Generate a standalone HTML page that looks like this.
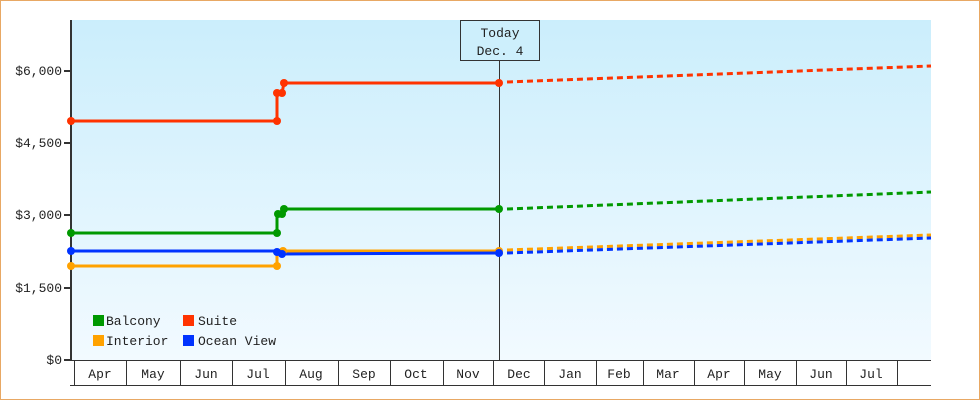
<!DOCTYPE html>
<html><head><style>
body{margin:0;width:980px;height:400px;overflow:hidden;background:#fff}
svg{display:block}
text{font-family:"Liberation Mono","DejaVu Sans Mono",monospace;font-size:13px;fill:#222}
</style></head><body>
<svg width="980" height="400" viewBox="0 0 980 400">
<defs><linearGradient id="g" x1="0" y1="0" x2="0" y2="1"><stop offset="0" stop-color="#cbeefc"/><stop offset="1" stop-color="#f2faff"/></linearGradient></defs>
<rect x="0.5" y="0.5" width="979" height="399" fill="#fff" stroke="#e8a864"/>
<rect x="71" y="20" width="860" height="340" fill="url(#g)"/>
<line x1="71" y1="20" x2="71" y2="361" stroke="#333" stroke-width="2"/>
<g stroke="#333" stroke-width="2">
<line x1="64" y1="71" x2="71" y2="71"/><line x1="64" y1="143" x2="71" y2="143"/><line x1="64" y1="215" x2="71" y2="215"/><line x1="64" y1="288" x2="71" y2="288"/><line x1="64" y1="360" x2="71" y2="360"/>
</g>
<g text-anchor="end"><text x="62" y="75">$6,000</text><text x="62" y="147">$4,500</text><text x="62" y="219">$3,000</text><text x="62" y="292">$1,500</text><text x="62" y="364">$0</text></g>
<line x1="71" y1="360.5" x2="931" y2="360.5" stroke="#333"/>
<line x1="70" y1="385.5" x2="931" y2="385.5" stroke="#333"/>
<g stroke="#333"><line x1="74.5" y1="360" x2="74.5" y2="385"/><line x1="126.5" y1="360" x2="126.5" y2="385"/><line x1="180.5" y1="360" x2="180.5" y2="385"/><line x1="232.5" y1="360" x2="232.5" y2="385"/><line x1="285.5" y1="360" x2="285.5" y2="385"/><line x1="338.5" y1="360" x2="338.5" y2="385"/><line x1="390.5" y1="360" x2="390.5" y2="385"/><line x1="443.5" y1="360" x2="443.5" y2="385"/><line x1="493.5" y1="360" x2="493.5" y2="385"/><line x1="544.5" y1="360" x2="544.5" y2="385"/><line x1="596.5" y1="360" x2="596.5" y2="385"/><line x1="643.5" y1="360" x2="643.5" y2="385"/><line x1="694.5" y1="360" x2="694.5" y2="385"/><line x1="744.5" y1="360" x2="744.5" y2="385"/><line x1="796.5" y1="360" x2="796.5" y2="385"/><line x1="846.5" y1="360" x2="846.5" y2="385"/><line x1="897.5" y1="360" x2="897.5" y2="385"/></g>
<g text-anchor="middle"><text x="100" y="378">Apr</text><text x="153" y="378">May</text><text x="206" y="378">Jun</text><text x="258" y="378">Jul</text><text x="311" y="378">Aug</text><text x="364" y="378">Sep</text><text x="416" y="378">Oct</text><text x="468" y="378">Nov</text><text x="519" y="378">Dec</text><text x="570" y="378">Jan</text><text x="619" y="378">Feb</text><text x="668" y="378">Mar</text><text x="719" y="378">Apr</text><text x="770" y="378">May</text><text x="821" y="378">Jun</text><text x="871" y="378">Jul</text></g>
<line x1="499.5" y1="60" x2="499.5" y2="360" stroke="#333"/>
<rect x="460.5" y="20.5" width="79" height="40" fill="#cdeffc" stroke="#333"/>
<text x="500" y="37" text-anchor="middle">Today</text><text x="500" y="55" text-anchor="middle">Dec. 4</text>
<g fill="none" stroke-width="3">
<polyline stroke="#ff3300" points="71,121 277,121 277,93 282,93 284,83 500,83"/>
<polyline stroke="#009900" points="71,233 277,233 277,214 281,214 283,209 500,209"/>
<polyline stroke="#ffa200" points="71,266 277,266 277,251 500,251"/>
<polyline stroke="#0033ff" points="71,251 277,251 281,254 500,253"/>
<g stroke-dasharray="6,4">
<line stroke="#ff3300" x1="507" y1="82" x2="931" y2="66"/>
<line stroke="#009900" x1="507" y1="209" x2="931" y2="192"/>
<line stroke="#ffa200" x1="507" y1="250" x2="931" y2="235"/>
<line stroke="#0033ff" x1="507" y1="253" x2="931" y2="238"/>
</g></g>
<g>
<circle cx="71" cy="121" r="4" fill="#ff3300"/><circle cx="277" cy="121" r="4" fill="#ff3300"/><circle cx="277" cy="93" r="4" fill="#ff3300"/><circle cx="282" cy="93" r="4" fill="#ff3300"/><circle cx="284" cy="83" r="4" fill="#ff3300"/><circle cx="499" cy="83" r="4" fill="#ff3300"/>
<circle cx="71" cy="233" r="4" fill="#009900"/><circle cx="277" cy="233" r="4" fill="#009900"/><circle cx="278" cy="214" r="4" fill="#009900"/><circle cx="282" cy="214" r="4" fill="#009900"/><circle cx="284" cy="209" r="4" fill="#009900"/><circle cx="499" cy="209" r="4" fill="#009900"/>
<circle cx="71" cy="266" r="4" fill="#ffa200"/><circle cx="277" cy="266" r="4" fill="#ffa200"/><circle cx="283" cy="251" r="4" fill="#ffa200"/><circle cx="499" cy="251" r="4" fill="#ffa200"/>
<circle cx="71" cy="251" r="4" fill="#0033ff"/><circle cx="277" cy="252" r="4" fill="#0033ff"/><circle cx="282" cy="254" r="4" fill="#0033ff"/><circle cx="499" cy="253" r="4" fill="#0033ff"/>
</g>
<rect x="93" y="315" width="11" height="11" fill="#009900"/><text x="106" y="325">Balcony</text>
<rect x="183" y="315" width="11" height="11" fill="#ff3300"/><text x="198" y="325">Suite</text>
<rect x="93" y="335" width="11" height="11" fill="#ffa200"/><text x="106" y="345">Interior</text>
<rect x="183" y="335" width="11" height="11" fill="#0033ff"/><text x="198" y="345">Ocean View</text>
</svg>
</body></html>
